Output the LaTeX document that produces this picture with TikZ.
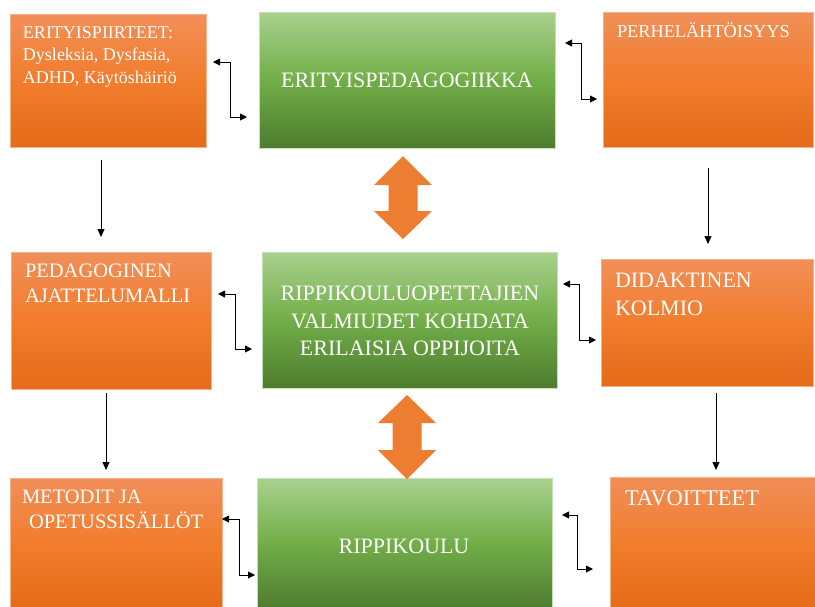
\documentclass[tikz,border=0pt]{standalone}
\usepackage{fontspec}
\setmainfont{Liberation Serif}
\usetikzlibrary{arrows.meta,calc}
\definecolor{orTop}{RGB}{241,143,88}
\definecolor{orMid}{RGB}{241,125,45}
\definecolor{orBot}{RGB}{228,107,26}
\definecolor{orEdge}{RGB}{246,178,135}
\definecolor{grTop}{RGB}{169,209,142}
\definecolor{grMid}{RGB}{114,174,72}
\definecolor{grBot}{RGB}{78,124,47}
\definecolor{grEdge}{RGB}{197,224,180}
\definecolor{fatOr}{RGB}{237,125,49}
\begin{document}
\begin{tikzpicture}[x=1pt,y=-1pt,
  obox/.style={rectangle, inner sep=0pt, outer sep=0pt, draw=orEdge, line width=0.8pt,
    top color=orTop, bottom color=orBot, middle color=orMid},
  gbox/.style={rectangle, inner sep=0pt, outer sep=0pt, draw=grEdge, line width=0.8pt,
    top color=grTop, bottom color=grBot, middle color=grMid},
  ltext/.style={text=white, inner sep=0pt, outer sep=0pt, anchor=base west, align=left},
  ctext/.style={text=white, inner sep=0pt, outer sep=0pt, align=center},
  elbow/.style={line width=0.9pt, {Triangle[length=7pt,width=7pt]}-{Triangle[length=7pt,width=7pt]}},
  downarr/.style={line width=0.8pt, -{Triangle[length=8pt,width=7pt]}},
  fatarr/.style={fill=fatOr}
]
\useasboundingbox (0,0) rectangle (815,606);

% boxes
\node[obox, minimum width=196pt, minimum height=133pt] (a) at (108,80.5) {};
\node[gbox, minimum width=296pt, minimum height=136pt] (b) at (407,80) {};
\node[obox, minimum width=210pt, minimum height=135pt] (c) at (708,79.5) {};
\node[obox, minimum width=200pt, minimum height=137pt] (d) at (111,320.5) {};
\node[gbox, minimum width=295pt, minimum height=136pt] (e) at (409.5,320) {};
\node[obox, minimum width=212pt, minimum height=127pt] (f) at (707,322.5) {};
\node[obox, minimum width=212pt, minimum height=130pt] (m) at (116,543) {};
\node[gbox, minimum width=295pt, minimum height=130pt] (r) at (404.5,543) {};
\node[obox, minimum width=207pt, minimum height=131pt] (t) at (713.5,542.5) {};

% texts (multi-line nodes: base = baseline of the last line)
\node[ltext, font=\fontsize{18}{22.5}\selectfont] (ta) at (23,83)
  {ERITYISPIIRTEET:\\Dysleksia, Dysfasia,\\ADHD, Käytöshäiriö};
\node[ctext, font=\fontsize{22}{26}\selectfont, anchor=base] (tb) at (407,87) {ERITYISPEDAGOGIIKKA};
\node[ltext, font=\fontsize{18.3}{22}\selectfont] (tc) at (617,37) {PERHELÄHTÖISYYS};
\node[ltext, font=\fontsize{20.5}{25}\selectfont] (td) at (25,302) {PEDAGOGINEN\\AJATTELUMALLI};
\node[ctext, font=\fontsize{22}{27.5}\selectfont] (te) at (410,321)
  {RIPPIKOULUOPETTAJIEN\\VALMIUDET KOHDATA\\ERILAISIA OPPIJOITA};
\node[ltext, font=\fontsize{22}{28}\selectfont] (tf) at (615,315) {DIDAKTINEN\\KOLMIO};
\node[ltext, font=\fontsize{20.5}{25}\selectfont] (tm) at (22,528) {METODIT JA\\\hspace*{7pt}OPETUSSISÄLLÖT};
\node[ctext, font=\fontsize{22}{26}\selectfont, anchor=base] (tr) at (404,553) {RIPPIKOULU};
\node[ltext, font=\fontsize{22.5}{26}\selectfont] (tt) at (625,505) {TAVOITTEET};

% elbow double connectors
\draw[elbow] ($(a.north east)+(7,48)$) -- ++(17,0) |- ($(b.north west)+(-12,105)$);
\draw[elbow] ($(b.north east)+(10,31)$) -- ++(16,0) |- ($(c.north west)+(-6,87)$);
\draw[elbow] ($(d.north east)+(7,42)$) -- ++(17,0) |- ($(e.north west)+(-10,97)$);
\draw[elbow] ($(e.north east)+(6,32)$) -- ++(16,0) |- ($(f.north west)+(-5,81)$);
\draw[elbow] ($(m.north east)+(0,41)$) -- ++(17,0) |- ($(r.north west)+(-2,97)$);
\draw[elbow] ($(r.north east)+(10,37)$) -- ++(15,0) |- ($(t.north west)+(-17,92)$);

% down arrows
\draw[downarr] ($(a.south)+(-7,13)$) -- ($(d.north)+(-10,-15)$);
\draw[downarr] ($(d.south)+(-5,4)$) -- ($(m.north)+(-10,-8)$);
\draw[downarr] ($(c.south)+(0,21)$) -- ($(f.north)+(1,-15)$);
\draw[downarr] ($(f.south)+(9,7)$) -- ($(t.north)+(2.5,-7)$);

% fat double arrows
\fill[fatarr] (403,156) -- (432,185) -- (417.5,185) -- (417.5,211) -- (432,211) -- (403,239)
  -- (374,211) -- (388.5,211) -- (388.5,185) -- (374,185) -- cycle;
\fill[fatarr] (407,395) -- (436,423) -- (421.5,423) -- (421.5,450) -- (436,450) -- (407,479)
  -- (378,450) -- (392.5,450) -- (392.5,423) -- (378,423) -- cycle;
\end{tikzpicture}
\end{document}
